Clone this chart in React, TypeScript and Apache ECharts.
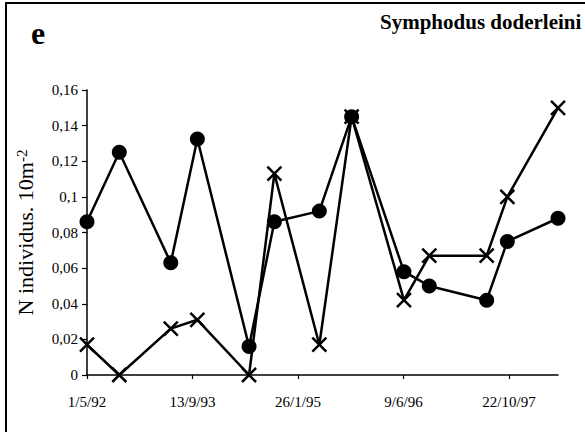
import React, { useEffect, useRef } from "react";
import * as echarts from "echarts";

const sampleDates = [
  "1992-05-01", "1992-10-01", "1993-06-02", "1993-10-06", "1994-06-08",
  "1994-10-06", "1995-05-07", "1995-10-07", "1996-06-11", "1996-10-09",
  "1997-07-08", "1997-10-14", "1998-06-11",
];
const circleValues = [0.086, 0.125, 0.063, 0.1325, 0.016, 0.086, 0.092, 0.145, 0.058, 0.05, 0.042, 0.075, 0.088];
const crossValues = [0.017, 0, 0.026, 0.031, 0, 0.113, 0.017, 0.145, 0.042, 0.067, 0.067, 0.1, 0.15];
const xTickLabels = ["1/5/92", "13/9/93", "26/1/95", "9/6/96", "22/10/97"];
const yTickLabels = ["0", "0,02", "0,04", "0,06", "0,08", "0,1", "0,12", "0,14", "0,16"];
const startDate = "1992-05-01";
const dayStep = 500;
const yStep = 0.02;
const titleText = "Symphodus doderleini";
const panelLetter = "e";

const DAY = 86400000;
const toDays = (s: string) => Math.round((Date.parse(s + "T00:00:00Z") - Date.parse(startDate + "T00:00:00Z")) / DAY);

export default function App() {
  const ref = useRef<HTMLDivElement>(null);
  useEffect(() => {
    if (!ref.current) return;
    const chart = echarts.init(ref.current, null, { renderer: "svg" });
    const xs = sampleDates.map(toDays);
    const xMax = xs[xs.length - 1];
    const tickVals = xTickLabels.map((_, i) => i * dayStep);
    const serif = "'Liberation Serif', 'Times New Roman', serif";
    const crossPath = "path://M0,0L10,10M10,0L0,10";
    chart.setOption({
      animation: false,
      backgroundColor: "#fff",
      grid: { left: 87, top: 90, width: 471, height: 285 },
      xAxis: {
        type: "value",
        min: 0,
        max: xMax,
        interval: dayStep,
        splitLine: { show: false },
        axisLine: { show: true, onZero: false, lineStyle: { color: "#000", width: 1.5 } },
        axisTick: { show: true, length: 4, lineStyle: { color: "#000", width: 1.2 }, customValues: tickVals },
        axisLabel: {
          customValues: tickVals,
          color: "#000",
          fontFamily: serif,
          fontSize: 15,
          margin: 19,
          formatter: (v: number) => xTickLabels[Math.round(v / dayStep)] ?? "",
        },
      },
      yAxis: {
        type: "value",
        min: 0,
        max: 0.16,
        interval: yStep,
        splitLine: { show: false },
        axisLine: { show: true, lineStyle: { color: "#000", width: 1.5 } },
        axisTick: { show: true, length: 5, lineStyle: { color: "#000", width: 1.2 } },
        axisLabel: {
          color: "#000",
          fontFamily: serif,
          fontSize: 15,
          margin: 9,
          formatter: (v: number) => yTickLabels[Math.round(v / yStep)] ?? "",
        },
        name: "{a|N individus. 10m}{b|-2}",
        nameLocation: "middle",
        nameRotate: 90,
        nameGap: 50,
        nameTextStyle: {
          rich: {
            a: { fontFamily: serif, fontSize: 22, color: "#000" },
            b: { fontFamily: serif, fontSize: 15, color: "#000", verticalAlign: "top", padding: [0, 0, 8, 0] },
          },
        },
      },
      graphic: [
        {
          type: "rect",
          shape: { x: 6, y: 3, width: 620, height: 470 },
          style: { fill: "none", stroke: "#000", lineWidth: 2 },
          silent: true,
        },
        {
          type: "text",
          style: {
            text: titleText, x: 380, y: 22, font: `bold 21px ${serif}`,
            fill: "#000", textAlign: "left", textVerticalAlign: "middle",
          },
        },
        {
          type: "text",
          style: {
            text: panelLetter, x: 31, y: 33, font: `bold 32px ${serif}`,
            fill: "#000", textAlign: "left", textVerticalAlign: "middle",
          },
        },
      ],
      series: [
        {
          type: "line",
          data: xs.map((x, i) => [x, circleValues[i]]),
          symbol: "circle",
          symbolSize: 15,
          showAllSymbol: true,
          clip: false,
          lineStyle: { color: "#000", width: 2.5 },
          itemStyle: { color: "#000" },
        },
        {
          type: "line",
          data: xs.map((x, i) => [x, crossValues[i]]),
          symbol: crossPath,
          symbolSize: 14,
          showAllSymbol: true,
          clip: false,
          lineStyle: { color: "#000", width: 2.5 },
          itemStyle: { color: "none", borderColor: "#000", borderWidth: 2.5 },
        },
      ],
    });
    return () => chart.dispose();
  }, []);
  return (
    <div
      ref={ref}
      style={{ position: "fixed", left: 0, top: 0, width: 585, height: 432, background: "#fff" }}
    />
  );
}
